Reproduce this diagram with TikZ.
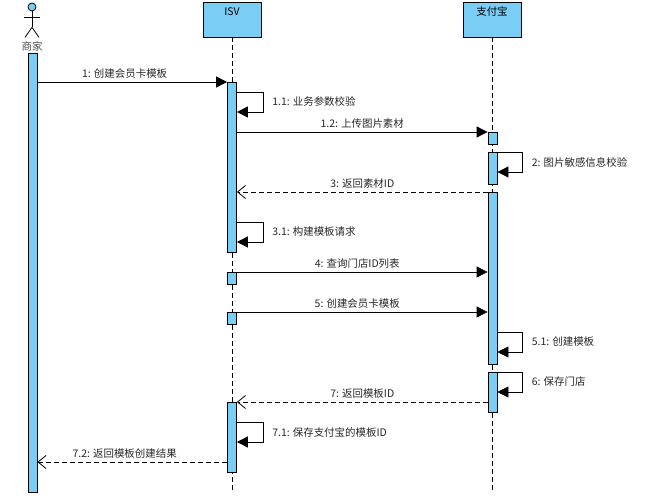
\documentclass[tikz,border=0pt]{standalone}
\usepackage{fontspec}
\setmainfont{Noto Sans CJK SC}
\usetikzlibrary{arrows.meta, positioning, calc}
\definecolor{sky}{HTML}{7ACDF4}

\begin{document}
\begin{tikzpicture}[x=1bp, y=-1bp, line width=0.8bp, font=\fontsize{10.5}{12}\selectfont,
    head/.style={draw, fill=sky, minimum width=58bp, minimum height=35bp, inner xsep=2bp, inner ysep=4bp, text height=10bp, text depth=17bp},
    bar/.style={draw, fill=sky, minimum width=9bp, inner sep=0, anchor=north},
    life/.style={dash pattern=on 5bp off 3bp},
    call/.style={-{Triangle[length=11bp, width=11bp]}},
    reply/.style={dash pattern=on 5bp off 3bp, -{Straight Barb[length=8bp, width=13bp]}},
    msg/.style={above=1bp, inner sep=2bp, text=black!85},
    note/.style={right=7bp, inner sep=2bp, text=black!85}
]
\useasboundingbox (0,0) rectangle (646,496);
\node[circle, draw, fill=sky, minimum size=8bp, inner sep=0] (mhead) at (32,7) {};
\draw (mhead.south) -- ++(0,16) coordinate (hip);
\draw ($(mhead.south)+(-8,6)$) -- ++(16,0);
\draw (hip) -- ++(-7,10) (hip) -- ++(7,10);
\node[text=black!70] (mlabel) at (32,46) {商家};
\node[head] (isv) at (232,19.5) {ISV};
\node[head] (ali) at (492,19.5) {支付宝};
\draw[life] (isv.south) -- (isv.south |- 0,492);
\draw[life] (ali.south) -- (ali.south |- 0,492);
\node[bar, minimum height=439bp] (mer) at (32.5,53) {};
\node[bar, minimum height=170bp] (isvA) at (232,82) {};
\node[bar, minimum height=12bp] (isvB) at (232,272) {};
\node[bar, minimum height=12bp] (isvC) at (232,312) {};
\node[bar, minimum height=70bp] (isvD) at (232,402) {};
\node[bar, minimum height=12bp] (aliA) at (492.5,132) {};
\node[bar, minimum height=32bp] (aliB) at (492.5,152) {};
\node[bar, minimum height=172bp] (aliC) at (492.5,192) {};
\node[bar, minimum height=40bp] (aliD) at (492.5,372) {};
\draw[call] (mer.east |- 0,82) -- node[msg, pos=0.46] {1: 创建会员卡模板} (isvA.north west);
\draw[call] (isvA.east |- 0,92) -- ++(26,0) -- node[note] {1.1: 业务参数校验} ++(0,20) -- (isvA.east |- 0,112);
\draw[call] (isvA.east |- 0,132) -- node[msg] {1.2: 上传图片素材} (aliA.north west);
\draw[call] (aliB.north east) -- ++(25,0) -- node[note] {2: 图片敏感信息校验} ++(0,20) -- (aliB.east |- 0,172);
\draw[reply] (aliC.north west) -- node[msg] {3: 返回素材ID} (isvA.east |- 0,192);
\draw[call] (isvA.east |- 0,222) -- ++(26,0) -- node[note] {3.1: 构建模板请求} ++(0,20) -- (isvA.east |- 0,242);
\draw[call] (isvB.north east) -- node[msg, pos=0.48] {4: 查询门店ID列表} (aliC.west |- 0,272);
\draw[call] (isvC.north east) -- node[msg, pos=0.48] {5: 创建会员卡模板} (aliC.west |- 0,312);
\draw[call] (aliC.east |- 0,332) -- ++(25,0) -- node[note] {5.1: 创建模板} ++(0,20) -- (aliC.east |- 0,352);
\draw[call] (aliD.north east) -- ++(25,0) -- node[note] {6: 保存门店} ++(0,20) -- (aliD.east |- 0,392);
\draw[reply] (aliD.west |- 0,402) -- node[msg] {7: 返回模板ID} (isvD.north east);
\draw[call] (isvD.east |- 0,422) -- ++(26,0) -- node[note] {7.1: 保存支付宝的模板ID} ++(0,20) -- (isvD.east |- 0,442);
\draw[reply] (isvD.west |- 0,462) -- node[msg, pos=0.54] {7.2: 返回模板创建结果} (mer.east |- 0,462);
\end{tikzpicture}
\end{document}
